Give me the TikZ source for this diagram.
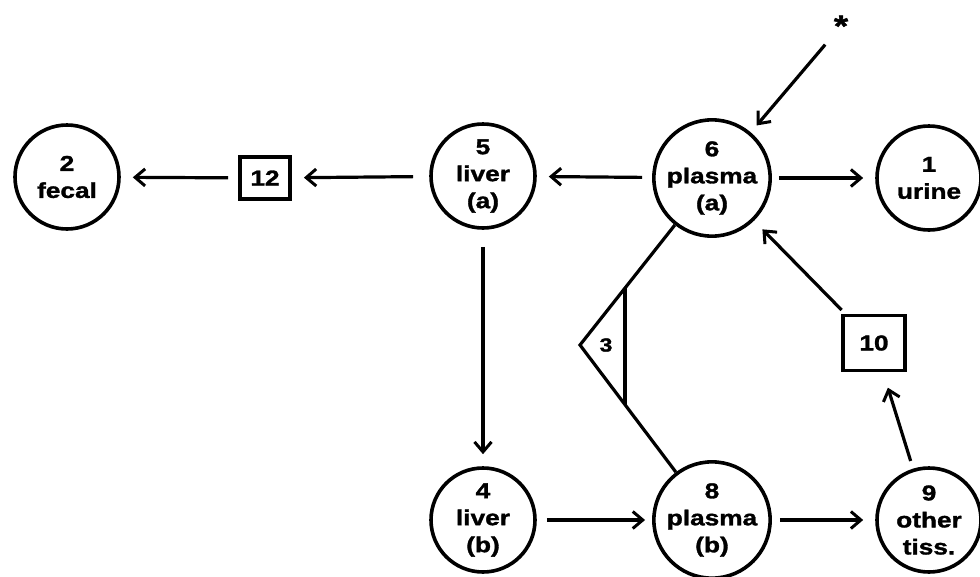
\documentclass[tikz,border=0pt]{standalone}
\usepackage{fontspec}
\newfontfamily\lab{Liberation Sans}[FakeStretch=1.22,FakeBold=1.5]
\usetikzlibrary{arrows.meta}
\begin{document}
\begin{tikzpicture}[x=1pt,y=-1pt,
  lbl/.style={font=\lab\bfseries\fontsize{21.5}{27}\selectfont},
  comp/.style={lbl,circle,draw,line width=3.6pt,minimum size=104pt,inner sep=0pt,align=center},
  boxn/.style={lbl,rectangle,draw,line width=3.8pt,inner sep=0pt},
  link/.style={line width=3.2pt},
  flow/.style={link,-{Straight Barb[length=10pt,width=17pt,line width=3pt]},shorten <=10pt,shorten >=12pt}]
\useasboundingbox (0,0) rectangle (980,576);
% compartments
\node[comp] (c2) at (67,177) {2\\fecal};
\node[comp] (c5) at (483,176) {5\\liver\\(a)};
\node[comp,minimum size=110pt] (c6) at (712,178) {6\\plasma\\(a)};
\node[comp] (c1) at (929,178) {1\\urine};
\node[comp] (c4) at (483,520) {4\\liver\\(b)};
\node[comp,minimum size=110pt] (c8) at (712,520) {8\\plasma\\(b)};
\node[comp] (c9) at (929,520) {9\\other\\tiss.};
% boxes
\node[boxn,minimum width=50pt,minimum height=42pt] (b12) at (265,178) {12};
\node[boxn,minimum width=62pt,minimum height=55pt] (b10) at (874,343) {10};
% star input
\node[lbl,font=\lab\bfseries\fontsize{30}{30}\selectfont] (star) at (841,26) {*};
% delay element 3
\coordinate (v3) at (580,345);
\coordinate (t1) at (625,288);
\coordinate (t2) at (625,405);
\node[lbl,font=\lab\bfseries\fontsize{19}{22}\selectfont] (n3) at (606,345) {3};
\draw[link,line join=miter] (c6) -- (v3) -- (c8);
\draw[link] (t1) -- (t2);
% flows
\draw[flow] (c6) -- (c5);
\draw[flow,shorten <=16pt] (c5) -- (b12);
\draw[flow] (b12) -- (c2);
\draw[flow,shorten <=7pt] (c6) -- (c1);
\draw[flow,shorten <=17pt] (c5) -- (c4);
\draw[flow,shorten >=7pt] (c4) -- (c8);
\draw[flow,shorten <=8pt] (c8) -- (c9);
\draw[flow,shorten <=8pt,shorten >=9pt] (star) -- (c6);
\draw[flow,shorten <=5pt,shorten >=12pt] (b10) -- (c6);
\draw[flow,shorten <=8pt,shorten >=16pt] (c9) -- (b10);
\end{tikzpicture}
\end{document}
